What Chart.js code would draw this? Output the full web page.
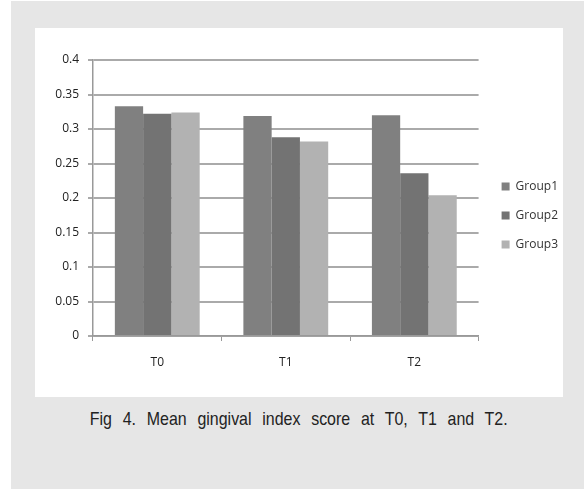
<!DOCTYPE html>
<html>
<head>
<meta charset="utf-8">
<script src="https://cdn.jsdelivr.net/npm/chart.js@4"></script>
<style>
  html, body { margin: 0; padding: 0; background: #fff; }
  #page { position: absolute; left: 11px; top: 1px; width: 573px; height: 488px; background: #e6e6e6; }
  #panel { position: absolute; left: 35px; top: 28px; width: 528px; height: 369px; background: #fff; }
  #caption { position: absolute; left: 35px; top: 408px; width: 528px; text-align: center; white-space: nowrap; }
  #caption span { display: inline-block; transform: scaleX(0.84); transform-origin: center;
    font-family: "Liberation Sans", sans-serif; font-size: 19px; word-spacing: 7.5px; color: #222; }
</style>
</head>
<body>
<div id="page"></div>
<div id="panel"><canvas id="gingivalChart" width="528" height="369"></canvas></div>
<div id="caption"><span>Fig 4. Mean gingival index score at T0, T1 and T2.</span></div>
<script>
const categories = ['T0', 'T1', 'T2'];
const groupNames = ['Group1', 'Group2', 'Group3'];
const group1 = [0.333, 0.319, 0.320];
const group2 = [0.322, 0.288, 0.236];
const group3 = [0.324, 0.282, 0.204];
const yTicks = [0, 0.05, 0.1, 0.15, 0.2, 0.25, 0.3, 0.35, 0.4];

// nudge the legend to where the original sits
const legendNudge = {
    id: 'legendNudge',
    afterLayout: function (chart) {
        const lg = chart.legend;
        lg.left += 6; lg.right += 6;
        lg.top -= 13; lg.bottom -= 13;
    }
};

document.addEventListener('DOMContentLoaded', function () {
    const ctx = document.getElementById('gingivalChart').getContext('2d');
    const font = { family: '"Open Sans", sans-serif', size: 12 };
    new Chart(ctx, {
        type: 'bar',
        data: {
            labels: categories,
            datasets: [
                { label: groupNames[0], data: group1, backgroundColor: '#808080' },
                { label: groupNames[1], data: group2, backgroundColor: '#737373' },
                { label: groupNames[2], data: group3, backgroundColor: '#b2b2b2' }
            ]
        },
        options: {
            responsive: false,
            animation: false,
            layout: { padding: { top: 32, left: 0, right: 1, bottom: 0 } },
            datasets: { bar: { categoryPercentage: 0.66, barPercentage: 1 } },
            plugins: {
                tooltip: { enabled: false },
                legend: {
                    position: 'right',
                    labels: { boxWidth: 8, boxHeight: 8, padding: 17, color: '#333', font: font }
                }
            },
            scales: {
                x: {
                    grid: { drawOnChartArea: false, drawTicks: true, tickLength: 5, color: '#999', offset: true },
                    border: { color: '#999', width: 1.5 },
                    ticks: { color: '#222', font: font, padding: 14 },
                    afterFit: function (axis) { axis.height = 61; }
                },
                y: {
                    min: 0,
                    max: 0.4,
                    afterBuildTicks: function (axis) { axis.ticks = yTicks.map(v => ({ value: v })); },
                    grid: { color: '#aaa', lineWidth: 2, tickLength: 5 },
                    border: { color: '#999', width: 1.5 },
                    ticks: { color: '#222', font: font, padding: 9, callback: v => String(v) },
                    afterFit: function (axis) { axis.width = 58; }
                }
            }
        },
        plugins: [legendNudge]
    });
});
</script>
</body>
</html>
